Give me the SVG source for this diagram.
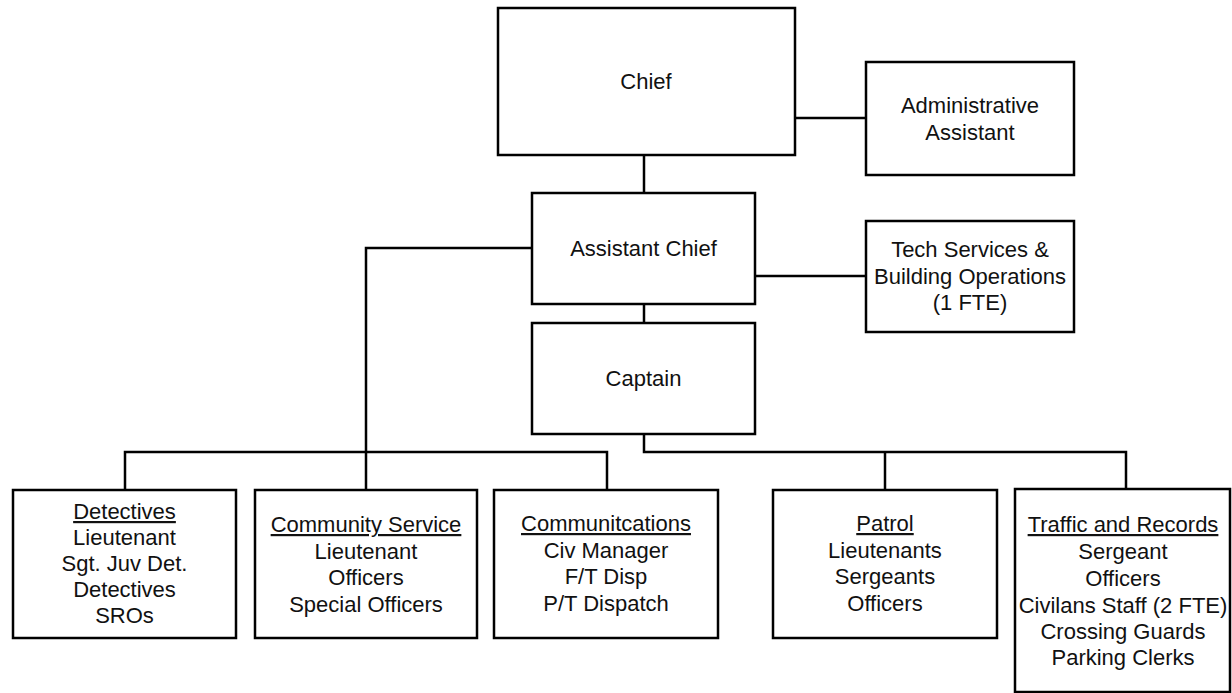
<svg xmlns="http://www.w3.org/2000/svg" width="1232" height="693" viewBox="0 0 1232 693">
<style>
.box{fill:#fff;stroke:#000;stroke-width:2.5}
.ln{fill:none;stroke:#000;stroke-width:2.5}
text{font-family:"Liberation Sans",Arial,sans-serif;font-size:22px;fill:#111;text-anchor:middle}
.u{text-decoration:underline}
</style>
<rect width="1232" height="693" fill="#fff"/>
<g id="connectors">
<path class="ln" d="M644,155V193"/>
<path class="ln" d="M795,118H866"/>
<path class="ln" d="M755,276H866"/>
<path class="ln" d="M644,304V323"/>
<path class="ln" d="M532,248H366V490"/>
<path class="ln" d="M125,490V452H607V490"/>
<path class="ln" d="M644,434V452H1126V489"/>
<path class="ln" d="M885,452V490"/>
</g>
<g id="chief"><rect class="box" x="498" y="8" width="297" height="147"/><text x="646" y="89">Chief</text></g>
<g id="admin"><rect class="box" x="866" y="62" width="208" height="113"/><text x="970" y="113">Administrative</text><text x="970" y="140">Assistant</text></g>
<g id="asstchief"><rect class="box" x="532" y="193" width="223" height="111"/><text x="643.5" y="256">Assistant Chief</text></g>
<g id="tech"><rect class="box" x="866" y="221" width="208" height="111"/><text x="970" y="257">Tech Services &amp;</text><text x="970" y="283.5">Building Operations</text><text x="970" y="310">(1 FTE)</text></g>
<g id="captain"><rect class="box" x="532" y="323" width="223" height="111"/><text x="643.5" y="386">Captain</text></g>
<g id="detectives"><rect class="box" x="13" y="490" width="223" height="148"/>
<text x="124.5" y="519" class="u">Detectives</text><text x="124.5" y="545">Lieutenant</text><text x="124.5" y="571">Sgt. Juv Det.</text><text x="124.5" y="597">Detectives</text><text x="124.5" y="623">SROs</text></g>
<g id="community"><rect class="box" x="255" y="490" width="222" height="148"/>
<text x="366" y="532" class="u">Community Service</text><text x="366" y="558.5">Lieutenant</text><text x="366" y="585">Officers</text><text x="366" y="611.5">Special Officers</text></g>
<g id="communications"><rect class="box" x="494" y="490" width="224" height="148"/>
<text x="606" y="531" class="u">Communitcations</text><text x="606" y="557.5">Civ Manager</text><text x="606" y="584">F/T Disp</text><text x="606" y="610.5">P/T Dispatch</text></g>
<g id="patrol"><rect class="box" x="773" y="490" width="224" height="148"/>
<text x="885" y="531" class="u">Patrol</text><text x="885" y="557.5">Lieutenants</text><text x="885" y="584">Sergeants</text><text x="885" y="610.5">Officers</text></g>
<g id="traffic"><rect class="box" x="1015" y="489" width="215" height="203"/>
<text x="1123" y="532" class="u">Traffic and Records</text><text x="1123" y="559">Sergeant</text><text x="1123" y="586">Officers</text><text x="1123" y="613">Civilans Staff (2 FTE)</text><text x="1123" y="639">Crossing Guards</text><text x="1123" y="665">Parking Clerks</text></g>
</svg>
